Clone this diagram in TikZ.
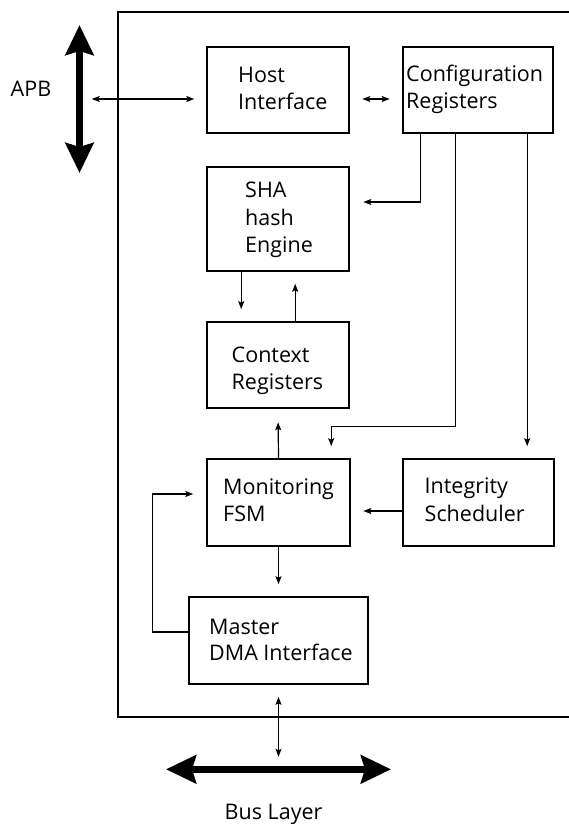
\documentclass[tikz,border=0pt]{standalone}
\usepackage{fontspec}
\setmainfont{Open Sans}
\usetikzlibrary{arrows.meta,calc}
\tikzset{
  box/.style={draw, line width=1.6pt, inner sep=0pt, rectangle},
  conn/.style={line width=1.2pt, arrows={-Stealth[length=8pt,width=6pt,inset=1.5pt]}},
  dconn/.style={line width=1.2pt, arrows={Stealth[length=8pt,width=6pt,inset=1.5pt]-Stealth[length=8pt,width=6pt,inset=1.5pt]}},
  bigarrow/.style={line width=7pt, arrows={Stealth[length=30pt,width=28pt,inset=4pt]-Stealth[length=30pt,width=28pt,inset=4pt]}},
  lbl/.style={inner sep=0pt, anchor=base west, font=\fontsize{21.5}{25}\selectfont},
}
\newcommand{\txt}[4]{\node[lbl] (#1) at (#2,#3) {#4};}
\begin{document}
\begin{tikzpicture}[x=1pt,y=-1pt]
\useasboundingbox (0,0) rectangle (569,824);
% frame
\draw[line width=1.5pt] (569,12) -- (118,12) -- (118,717) -- (569,717);
% boxes
\node[box, minimum width=142pt, minimum height=86pt] (host) at (278,90) {};
\node[box, minimum width=150pt, minimum height=86pt] (config) at (478,90) {};
\node[box, minimum width=142pt, minimum height=104pt] (sha) at (278,219) {};
\node[box, minimum width=142pt, minimum height=86pt] (context) at (278,365) {};
\node[box, minimum width=143pt, minimum height=87pt] (mon) at (278.5,502.5) {};
\node[box, minimum width=151pt, minimum height=87pt] (integ) at (478.5,502.5) {};
\node[box, minimum width=179pt, minimum height=87pt] (master) at (278.5,640.5) {};
% texts
\txt{t1}{238}{82.7}{Host}
\txt{t2}{238}{110}{Interface}
\txt{t3}{406}{82}{Configuration}
\txt{t4}{406}{109}{Registers}
\txt{t5}{245}{197}{SHA}
\txt{t6}{245}{225}{hash}
\txt{t7}{245}{252}{Engine}
\txt{t8}{231.5}{362.3}{Context}
\txt{t9}{231.5}{389.3}{Registers}
\txt{t10}{223}{494.3}{Monitoring}
\txt{t11}{223}{521.7}{FSM}
\txt{t12}{424.5}{493}{Integrity}
\txt{t13}{424.5}{521}{Scheduler}
\txt{t14}{209}{634}{Master}
\txt{t15}{209}{660.7}{DMA Interface}
\txt{apb}{10.5}{97}{APB}
\txt{bus}{224.5}{819}{Bus Layer}
% thick bus arrows
\coordinate (apbT) at (79.5,25);
\coordinate (apbB) at (79.5,173);
\coordinate (busL) at (166,769.3);
\coordinate (busR) at (391,769.3);
\coordinate (busC) at (278.3,769.3);
\coordinate (apbP) at (91.7,99);
\draw[bigarrow] (apbT) -- (apbB);
\draw[bigarrow] (busL) -- (busR);
% connectors
\draw[dconn, shorten >=12pt] (apbP) -- (host.west |- apbP);
\draw[dconn, shorten <=12.5pt, shorten >=12.5pt] ([yshift=-9pt]host.east) -- ([yshift=-9pt]config.west);
\draw[conn, shorten >=13.5pt] ([xshift=18pt]config.south west) |- ($(sha.east)+(0,-17)$);
\draw[conn, shorten >=12pt] ([xshift=53pt]config.south west) -- ++(0,292.3) -| ([xshift=125pt]mon.north west);
\draw[conn, shorten >=12pt] ([xshift=125pt]config.south west) -- ([xshift=125pt]integ.north west);
\draw[conn, shorten >=12pt] ([xshift=35pt]sha.south west) -- ([xshift=35pt]context.north west);
\draw[conn, shorten >=12pt] ([xshift=89pt]context.north west) -- ([xshift=89pt]sha.south west);
\draw[conn, shorten >=13.5pt] (mon.north) -- (context.south);
\draw[conn, shorten >=12.5pt] ([yshift=-8.5pt]integ.west) -- ([yshift=-8.5pt]mon.east);
\draw[conn, shorten >=12pt] (mon.south) -- (master.north);
\draw[conn, shorten >=13pt] ([yshift=8.5pt]master.west) -- ++(-36,0) |- ([yshift=8.5pt]mon.west);
\draw[dconn, shorten <=12pt, shorten >=12.5pt] (master.south) -- (master.south |- busC);
\end{tikzpicture}
\end{document}
